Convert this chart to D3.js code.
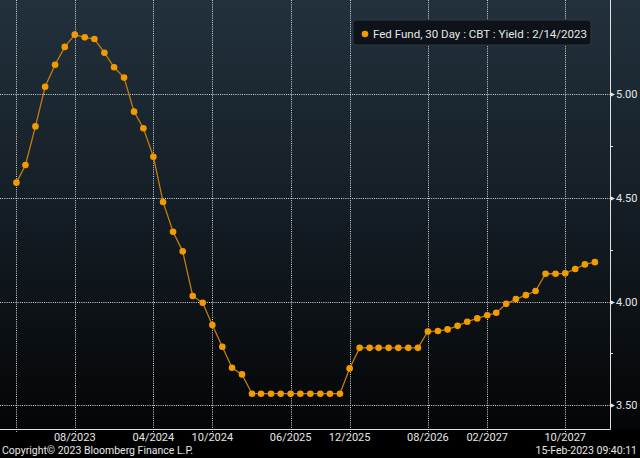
<!DOCTYPE html>
<html>
<head>
<meta charset="utf-8">
<script src="https://cdn.jsdelivr.net/npm/d3@7"></script>
<style>
  html, body { margin: 0; padding: 0; background: #000; }
  svg { display: block; }
  text { font-family: Roboto, "DejaVu Sans", sans-serif; fill: #e6e6e6; }
</style>
</head>
<body>
<svg id="chart" width="640" height="458"></svg>
<script>
// monthly implied rate, Feb 2023 .. Jan 2028
const startMonth = "2023-02-01";
const yields = [
  4.573, 4.658, 4.844, 5.035, 5.141, 5.227, 5.286, 5.273, 5.265, 5.199, 5.129,
  5.079, 4.915, 4.835, 4.698, 4.480, 4.336, 4.242, 4.027, 3.994, 3.887, 3.782, 3.681,
  3.649, 3.556, 3.556, 3.556, 3.556, 3.556, 3.556, 3.556, 3.556, 3.556, 3.556, 3.678,
  3.777, 3.777, 3.777, 3.777, 3.777, 3.777, 3.777, 3.856, 3.858, 3.866, 3.883, 3.903,
  3.919, 3.934, 3.946, 3.989, 4.012, 4.031, 4.051, 4.134, 4.134, 4.136, 4.157, 4.179,
  4.190
];
const xTickDates = ["2023-02-01", "2023-08-01", "2024-04-01", "2024-10-01", "2025-06-01",
  "2025-12-01", "2026-08-01", "2027-02-01", "2027-10-01"];
const xTickLabels = ["", "08/2023", "04/2024", "10/2024", "06/2025",
  "12/2025", "08/2026", "02/2027", "10/2027"];
const yMajor = [3.5, 4.0, 4.5, 5.0];
const yMinor = [3.75, 4.25, 4.75];
const legendLabel = "Fed Fund, 30 Day : CBT : Yield : 2/14/2023";

const W = 640, H = 458;
const plotR = 610, plotB = 429;

const parse = d3.utcParse("%Y-%m-%d");
const t0 = parse(startMonth);
const data = yields.map((v, i) => ({ date: d3.utcMonth.offset(t0, i), v }));

const svg = d3.select("#chart");

const defs = svg.append("defs");
const grad = defs.append("linearGradient")
  .attr("id", "bg").attr("x1", 0).attr("y1", 0).attr("x2", 0).attr("y2", 1);
grad.append("stop").attr("offset", "0%").attr("stop-color", "#22313d");
grad.append("stop").attr("offset", "50%").attr("stop-color", "#141d24");
grad.append("stop").attr("offset", "100%").attr("stop-color", "#040506");

svg.append("rect").attr("width", W).attr("height", plotB).attr("fill", "url(#bg)");
svg.append("rect").attr("y", plotB).attr("width", W).attr("height", H - plotB).attr("fill", "#000");

const x = d3.scaleUtc()
  .domain([parse("2022-12-12"), parse("2028-02-17")])
  .range([0, plotR]);
const y = d3.scaleLinear()
  .domain([3.386, 5.453])
  .range([plotB, 0]);

// grid
const grid = svg.append("g").attr("stroke", "#d8d8d8").attr("stroke-dasharray", "1,1.2");
grid.selectAll(".vg")
  .data(xTickDates)
  .join("line")
  .attr("x1", (d) => Math.round(x(parse(d))) + 0.5)
  .attr("x2", (d) => Math.round(x(parse(d))) + 0.5)
  .attr("y1", 0)
  .attr("y2", plotB + 3);
grid.selectAll(".hg")
  .data(yMajor)
  .join("line")
  .attr("x1", 0)
  .attr("x2", plotR)
  .attr("y1", (d) => Math.round(y(d)) + 0.5)
  .attr("y2", (d) => Math.round(y(d)) + 0.5);

// axes frame
svg.append("line")
  .attr("x1", 0).attr("x2", plotR + 0.5)
  .attr("y1", plotB + 0.5).attr("y2", plotB + 0.5)
  .attr("stroke", "#e0e0e0");
svg.append("line")
  .attr("x1", plotR + 0.5).attr("x2", plotR + 0.5)
  .attr("y1", 0).attr("y2", plotB + 0.5)
  .attr("stroke", "#e0e0e0");

// right axis ticks
const yAx = svg.append("g");
yAx.selectAll(".maj")
  .data(yMajor)
  .join("path")
  .attr("d", (d) => {
    const yy = Math.round(y(d)) + 0.5;
    return `M${plotR},${yy - 2.5}L${plotR + 5},${yy}L${plotR},${yy + 2.5}Z`;
  })
  .attr("fill", "#e6e6e6");
yAx.selectAll(".min")
  .data(yMinor)
  .join("line")
  .attr("x1", plotR).attr("x2", plotR + 3)
  .attr("y1", (d) => Math.round(y(d)) + 0.5)
  .attr("y2", (d) => Math.round(y(d)) + 0.5)
  .attr("stroke", "#e6e6e6");
yAx.selectAll("text")
  .data(yMajor)
  .join("text")
  .attr("x", plotR + 6)
  .attr("y", (d) => y(d) + 4)
  .attr("font-size", 11)
  .text((d) => d3.format(".2f")(d));

// bottom axis labels
svg.append("g").selectAll("text")
  .data(xTickDates)
  .join("text")
  .attr("x", (d) => x(parse(d)))
  .attr("y", plotB + 12)
  .attr("text-anchor", "middle")
  .attr("font-size", 11)
  .text((d, i) => xTickLabels[i]);

// series
const line = d3.line().x((d) => x(d.date)).y((d) => y(d.v));
svg.append("path")
  .datum(data)
  .attr("d", line)
  .attr("fill", "none")
  .attr("stroke", "#c27c0e")
  .attr("stroke-width", 1.3);
svg.append("g").selectAll("circle")
  .data(data)
  .join("circle")
  .attr("cx", (d) => x(d.date))
  .attr("cy", (d) => y(d.v))
  .attr("r", 3.3)
  .attr("fill", "#f39a00");

// legend
const lg = svg.append("g").attr("transform", "translate(353,20)");
lg.append("rect")
  .attr("width", 238).attr("height", 25).attr("rx", 3)
  .attr("fill", "#0d1318").attr("stroke", "#2c3843");
lg.append("circle").attr("cx", 12).attr("cy", 14).attr("r", 3.3).attr("fill", "#f39a00");
lg.append("text")
  .attr("x", 20).attr("y", 18)
  .attr("font-size", 11)
  .attr("textLength", 214)
  .attr("lengthAdjust", "spacingAndGlyphs")
  .text(legendLabel);

// footer
svg.append("text")
  .attr("x", 2).attr("y", 454)
  .attr("font-size", 10.5)
  .text("Copyright\u00a9 2023 Bloomberg Finance L.P.");
svg.append("text")
  .attr("x", 637).attr("y", 454)
  .attr("text-anchor", "end")
  .attr("font-size", 10.5)
  .text("15-Feb-2023 09:40:11");
</script>
</body>
</html>
